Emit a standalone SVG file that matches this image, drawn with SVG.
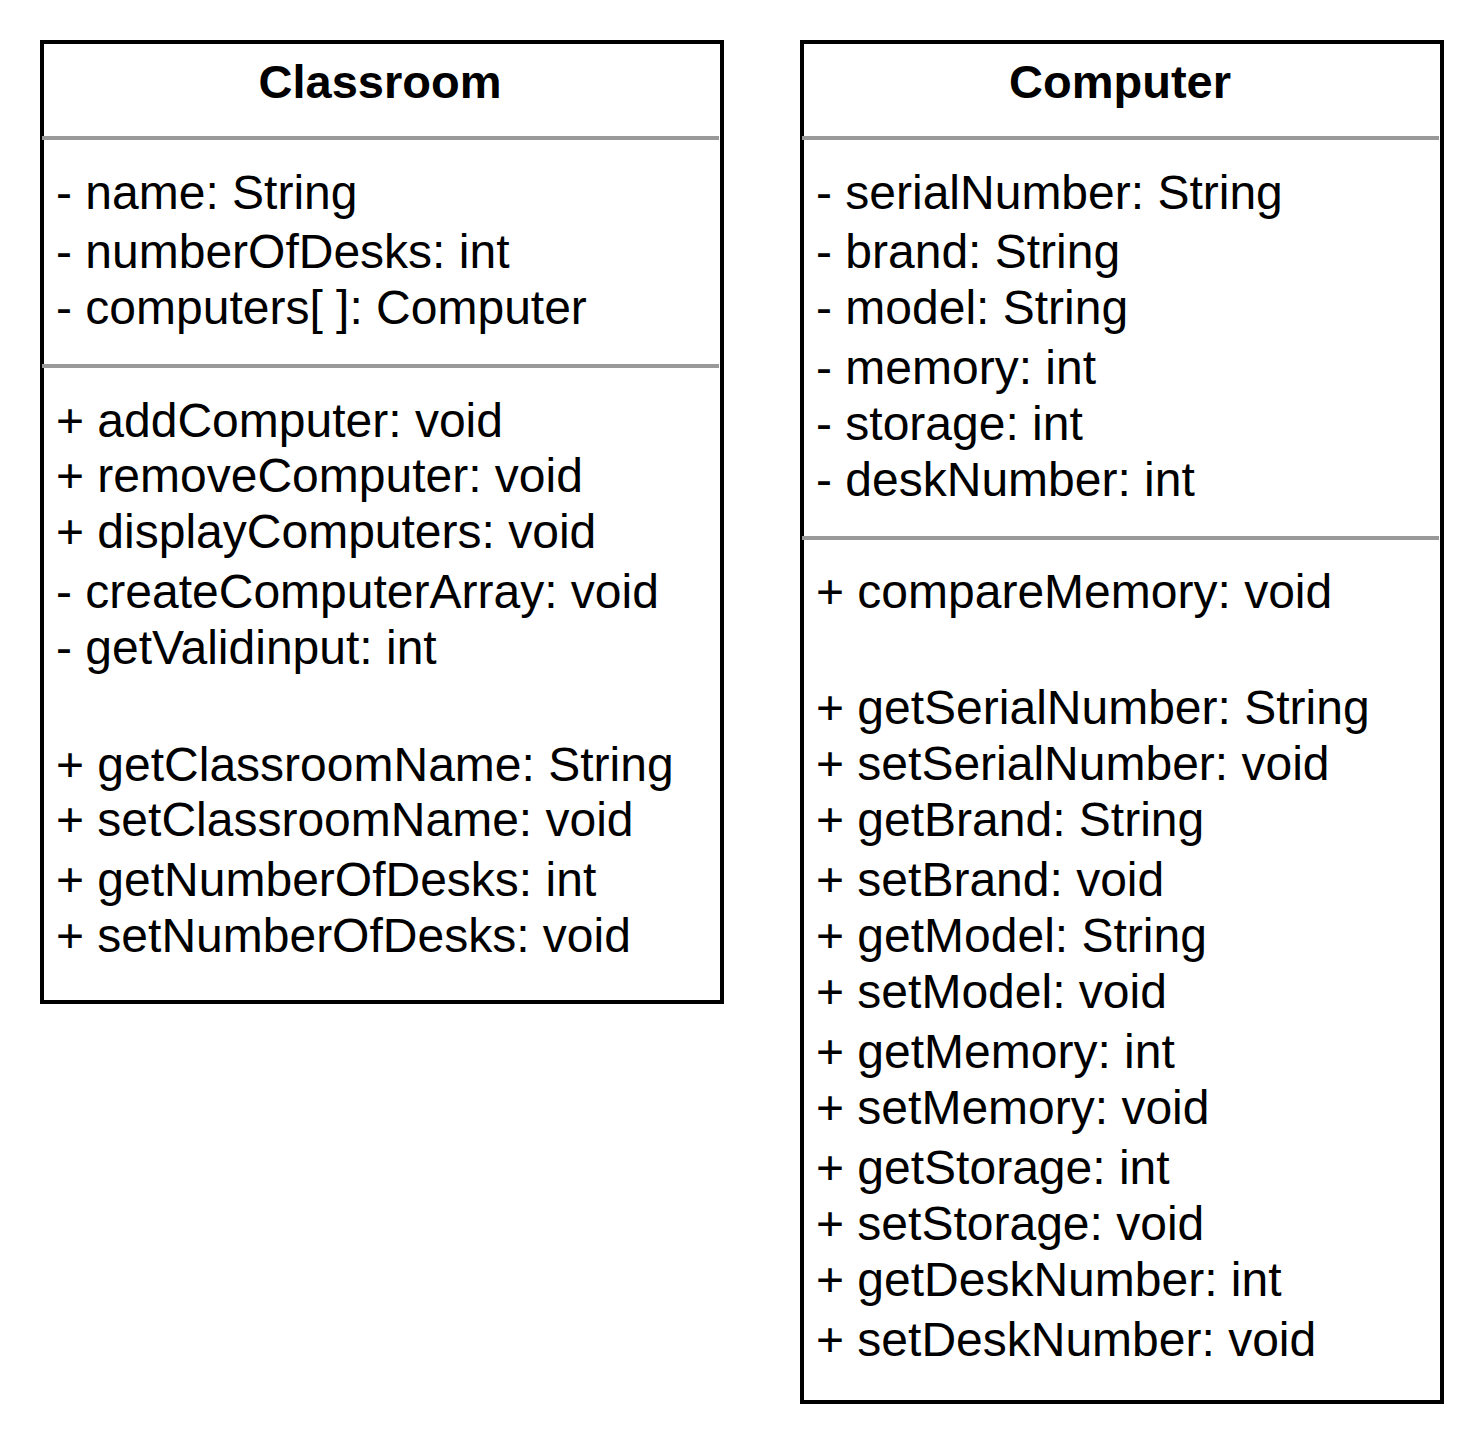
<svg xmlns="http://www.w3.org/2000/svg" width="1484" height="1444" viewBox="0 0 1484 1444">
<style>
.box{fill:#ffffff;stroke:#000000;stroke-width:4}
.sep{stroke:#999999;stroke-width:4;fill:none}
.title{font-family:"Liberation Sans",Arial,sans-serif;font-weight:bold;font-size:47px;fill:#000000;text-anchor:middle}
.t{font-family:"Liberation Sans",Arial,sans-serif;font-size:48px;fill:#000000}
</style>
<rect width="1484" height="1444" fill="#ffffff"/>
<g id="classroom">
<rect class="box" x="42" y="42" width="680" height="960"/>
<line class="sep" x1="42" y1="138" x2="719" y2="138"/>
<line class="sep" x1="42" y1="366" x2="719" y2="366"/>
<text class="title" x="380" y="98">Classroom</text>
<text class="t" x="56" y="209">- name: String</text>
<text class="t" x="56" y="268">- numberOfDesks: int</text>
<text class="t" x="56" y="324">- computers[ ]: Computer</text>
<text class="t" x="56" y="437">+ addComputer: void</text>
<text class="t" x="56" y="492">+ removeComputer: void</text>
<text class="t" x="56" y="548">+ displayComputers: void</text>
<text class="t" x="56" y="608">- createComputerArray: void</text>
<text class="t" x="56" y="664">- getValidinput: int</text>
<text class="t" x="56" y="781">+ getClassroomName: String</text>
<text class="t" x="56" y="836">+ setClassroomName: void</text>
<text class="t" x="56" y="896">+ getNumberOfDesks: int</text>
<text class="t" x="56" y="952">+ setNumberOfDesks: void</text>
</g>
<g id="computer">
<rect class="box" x="802" y="42" width="640" height="1360"/>
<line class="sep" x1="802" y1="138" x2="1439" y2="138"/>
<line class="sep" x1="802" y1="538" x2="1439" y2="538"/>
<text class="title" x="1120" y="98">Computer</text>
<text class="t" x="816" y="209">- serialNumber: String</text>
<text class="t" x="816" y="268">- brand: String</text>
<text class="t" x="816" y="324">- model: String</text>
<text class="t" x="816" y="384">- memory: int</text>
<text class="t" x="816" y="440">- storage: int</text>
<text class="t" x="816" y="496">- deskNumber: int</text>
<text class="t" x="816" y="608">+ compareMemory: void</text>
<text class="t" x="816" y="724">+ getSerialNumber: String</text>
<text class="t" x="816" y="780">+ setSerialNumber: void</text>
<text class="t" x="816" y="836">+ getBrand: String</text>
<text class="t" x="816" y="896">+ setBrand: void</text>
<text class="t" x="816" y="952">+ getModel: String</text>
<text class="t" x="816" y="1008">+ setModel: void</text>
<text class="t" x="816" y="1068">+ getMemory: int</text>
<text class="t" x="816" y="1124">+ setMemory: void</text>
<text class="t" x="816" y="1184">+ getStorage: int</text>
<text class="t" x="816" y="1240">+ setStorage: void</text>
<text class="t" x="816" y="1296">+ getDeskNumber: int</text>
<text class="t" x="816" y="1356">+ setDeskNumber: void</text>
</g>
<g id="connectors"></g>
</svg>
